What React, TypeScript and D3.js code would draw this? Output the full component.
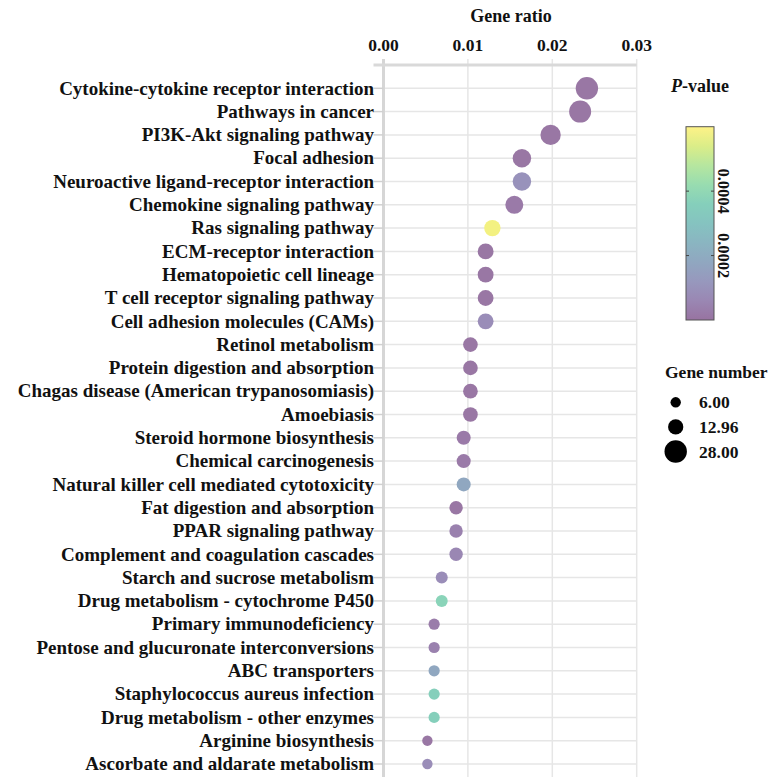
import React, { useEffect, useRef } from "react";
import * as d3 from "d3";

const pathways: string[] = [
  "Cytokine-cytokine receptor interaction",
  "Pathways in cancer",
  "PI3K-Akt signaling pathway",
  "Focal adhesion",
  "Neuroactive ligand-receptor interaction",
  "Chemokine signaling pathway",
  "Ras signaling pathway",
  "ECM-receptor interaction",
  "Hematopoietic cell lineage",
  "T cell receptor signaling pathway",
  "Cell adhesion molecules (CAMs)",
  "Retinol metabolism",
  "Protein digestion and absorption",
  "Chagas disease (American trypanosomiasis)",
  "Amoebiasis",
  "Steroid hormone biosynthesis",
  "Chemical carcinogenesis",
  "Natural killer cell mediated cytotoxicity",
  "Fat digestion and absorption",
  "PPAR signaling pathway",
  "Complement and coagulation cascades",
  "Starch and sucrose metabolism",
  "Drug metabolism - cytochrome P450",
  "Primary immunodeficiency",
  "Pentose and glucuronate interconversions",
  "ABC transporters",
  "Staphylococcus aureus infection",
  "Drug metabolism - other enzymes",
  "Arginine biosynthesis",
  "Ascorbate and aldarate metabolism",
];

const geneNumbers: number[] = [
  28, 27, 23, 19, 19, 18, 15, 14, 14, 14, 14, 12, 12, 12, 12, 11, 11, 11, 10, 10,
  10, 8, 8, 7, 7, 7, 7, 7, 6, 6,
];

const geneRatios: number[] = [
  0.0241, 0.0233, 0.0198, 0.0164, 0.0164, 0.0155, 0.0129, 0.0121, 0.0121, 0.0121,
  0.0121, 0.0103, 0.0103, 0.0103, 0.0103, 0.0095, 0.0095, 0.0095, 0.0086, 0.0086,
  0.0086, 0.0069, 0.0069, 0.006, 0.006, 0.006, 0.006, 0.006, 0.0052, 0.0052,
];

const pValues: number[] = [
  0.00001, 0.00001, 0.00001, 0.00001, 0.0001, 0.00002, 0.00058, 0.00001, 0.00001,
  0.00001, 0.00008, 0.00001, 0.00001, 0.00001, 0.00001, 0.00002, 0.00002, 0.00018,
  0.00001, 0.00004, 0.00006, 0.00008, 0.00038, 0.00003, 0.00004, 0.00018, 0.00036,
  0.00036, 0.00001, 0.00008,
];

const xTicks: number[] = [0, 0.01, 0.02, 0.03];
const colorTicks: number[] = [0.0002, 0.0004];
const sizeLegend: number[] = [6.0, 12.96, 28.0];

const W = 768;
const H = 782;
const FONT = "'Liberation Serif', 'Times New Roman', serif";
const ALPHA = 0.55;

export default function App() {
  const ref = useRef<SVGSVGElement | null>(null);

  useEffect(() => {
    const svg = d3.select(ref.current);
    svg.selectAll("*").remove();

    const left = 383.5;
    const right = 636.7;
    const top = 65;
    const bottom = 777;

    const x = d3.scaleLinear().domain([0, 0.03]).range([left, right]);
    const y = d3.scalePoint<string>().domain(pathways).range([88.3, 764]);
    const r = d3.scaleSqrt().domain([0, 28]).range([0, 11.2]);
    const cDomain = [0, 0.0006];
    const color = (p: number) => {
      const c = d3.color(d3.interpolateViridis((p - cDomain[0]) / (cDomain[1] - cDomain[0])))!.rgb();
      const mix = (v: number) => Math.round(255 - ALPHA * (255 - v));
      return d3.rgb(mix(c.r), mix(c.g), mix(c.b)).toString();
    };

    const g = svg.append("g");

    // horizontal grid lines
    g.selectAll("line.hgrid")
      .data(pathways)
      .enter()
      .append("line")
      .attr("x1", left)
      .attr("x2", right)
      .attr("y1", (d) => y(d)!)
      .attr("y2", (d) => y(d)!)
      .attr("stroke", "#e6e6e6")
      .attr("stroke-width", 1.5);

    // vertical grid lines
    g.selectAll("line.vgrid")
      .data(xTicks)
      .enter()
      .append("line")
      .attr("x1", (d) => x(d))
      .attr("x2", (d) => x(d))
      .attr("y1", top - 6)
      .attr("y2", bottom)
      .attr("stroke", (d, i) => (i === 0 ? "#d6d6d6" : "#e6e6e6"))
      .attr("stroke-width", (d, i) => (i === 0 ? 3 : 1.5));

    // top axis line
    g.append("line")
      .attr("x1", left - 10)
      .attr("x2", right)
      .attr("y1", top)
      .attr("y2", top)
      .attr("stroke", "#d9d9d9")
      .attr("stroke-width", 3);

    // y tick marks
    g.selectAll("line.ytick")
      .data(pathways)
      .enter()
      .append("line")
      .attr("x1", left - 10)
      .attr("x2", left)
      .attr("y1", (d) => y(d)!)
      .attr("y2", (d) => y(d)!)
      .attr("stroke", "#d0d0d0")
      .attr("stroke-width", 1.5);

    // x tick labels
    g.selectAll("text.xtick")
      .data(xTicks)
      .enter()
      .append("text")
      .attr("x", (d) => x(d))
      .attr("y", 51)
      .attr("text-anchor", "middle")
      .attr("font-family", FONT)
      .attr("font-weight", "bold")
      .attr("font-size", 17.5)
      .attr("fill", "#111")
      .text((d) => d3.format(".2f")(d));

    svg.append("text")
      .attr("x", 511)
      .attr("y", 22)
      .attr("text-anchor", "middle")
      .attr("font-family", FONT)
      .attr("font-weight", "bold")
      .attr("font-size", 18)
      .attr("fill", "#111")
      .text("Gene ratio");

    // y labels
    g.selectAll("text.ylab")
      .data(pathways)
      .enter()
      .append("text")
      .attr("x", 374)
      .attr("y", (d) => y(d)!)
      .attr("dy", "0.33em")
      .attr("text-anchor", "end")
      .attr("font-family", FONT)
      .attr("font-weight", "bold")
      .attr("font-size", 19)
      .attr("fill", "#111")
      .text((d) => d);

    // bubbles
    g.selectAll("circle.bubble")
      .data(pathways)
      .enter()
      .append("circle")
      .attr("cx", (d, i) => x(geneRatios[i]))
      .attr("cy", (d) => y(d)!)
      .attr("r", (d, i) => r(geneNumbers[i]))
      .attr("fill", (d, i) => color(pValues[i]));

    // color legend
    svg.append("text")
      .attr("x", 700)
      .attr("y", 92)
      .attr("text-anchor", "middle")
      .attr("font-family", FONT)
      .attr("font-weight", "bold")
      .attr("font-size", 18)
      .attr("fill", "#111")
      .html("<tspan font-style='italic'>P</tspan>-value");

    const barX = 686;
    const barW = 28;
    const barTop = 126.7;
    const barBottom = 320;
    const cy = d3.scaleLinear().domain(cDomain).range([barBottom, barTop]);

    const defs = svg.append("defs");
    const grad = defs
      .append("linearGradient")
      .attr("id", "pgrad")
      .attr("x1", 0)
      .attr("y1", 1)
      .attr("x2", 0)
      .attr("y2", 0);
    d3.range(0, 1.0001, 0.1).forEach((t) => {
      grad.append("stop")
        .attr("offset", t)
        .attr("stop-color", color(cDomain[0] + t * (cDomain[1] - cDomain[0])));
    });
    svg.append("rect")
      .attr("x", barX)
      .attr("y", barTop)
      .attr("width", barW)
      .attr("height", barBottom - barTop)
      .attr("fill", "url(#pgrad)")
      .attr("stroke", "#555")
      .attr("stroke-width", 1);

    colorTicks.forEach((t) => {
      const yy = cy(t);
      svg.append("line").attr("x1", barX).attr("x2", barX + 3).attr("y1", yy).attr("y2", yy)
        .attr("stroke", "#444").attr("stroke-width", 1);
      svg.append("line").attr("x1", barX + barW - 3).attr("x2", barX + barW).attr("y1", yy).attr("y2", yy)
        .attr("stroke", "#444").attr("stroke-width", 1);
      svg.append("text")
        .attr("transform", `translate(${barX + barW + 4},${yy}) rotate(90)`)
        .attr("text-anchor", "middle")
        .attr("font-family", FONT)
        .attr("font-weight", "bold")
        .attr("font-size", 16.5)
        .attr("fill", "#111")
        .text(d3.format(".4f")(t));
    });

    // size legend
    svg.append("text")
      .attr("x", 665)
      .attr("y", 378)
      .attr("font-family", FONT)
      .attr("font-weight", "bold")
      .attr("font-size", 17.5)
      .attr("fill", "#111")
      .text("Gene number");

    const ly = d3.scalePoint<number>().domain(sizeLegend).range([402.3, 451.5]);
    sizeLegend.forEach((v) => {
      svg.append("circle")
        .attr("cx", 675.7)
        .attr("cy", ly(v)!)
        .attr("r", r(v))
        .attr("fill", "#000");
      svg.append("text")
        .attr("x", 699)
        .attr("y", ly(v)!)
        .attr("dy", "0.35em")
        .attr("font-family", FONT)
        .attr("font-weight", "bold")
        .attr("font-size", 17.5)
        .attr("fill", "#111")
        .text(d3.format(".2f")(v));
    });
  }, []);

  return (
    <svg
      ref={ref}
      width={W}
      height={H}
      style={{ position: "absolute", left: 0, top: 0, background: "#fff" }}
    />
  );
}
